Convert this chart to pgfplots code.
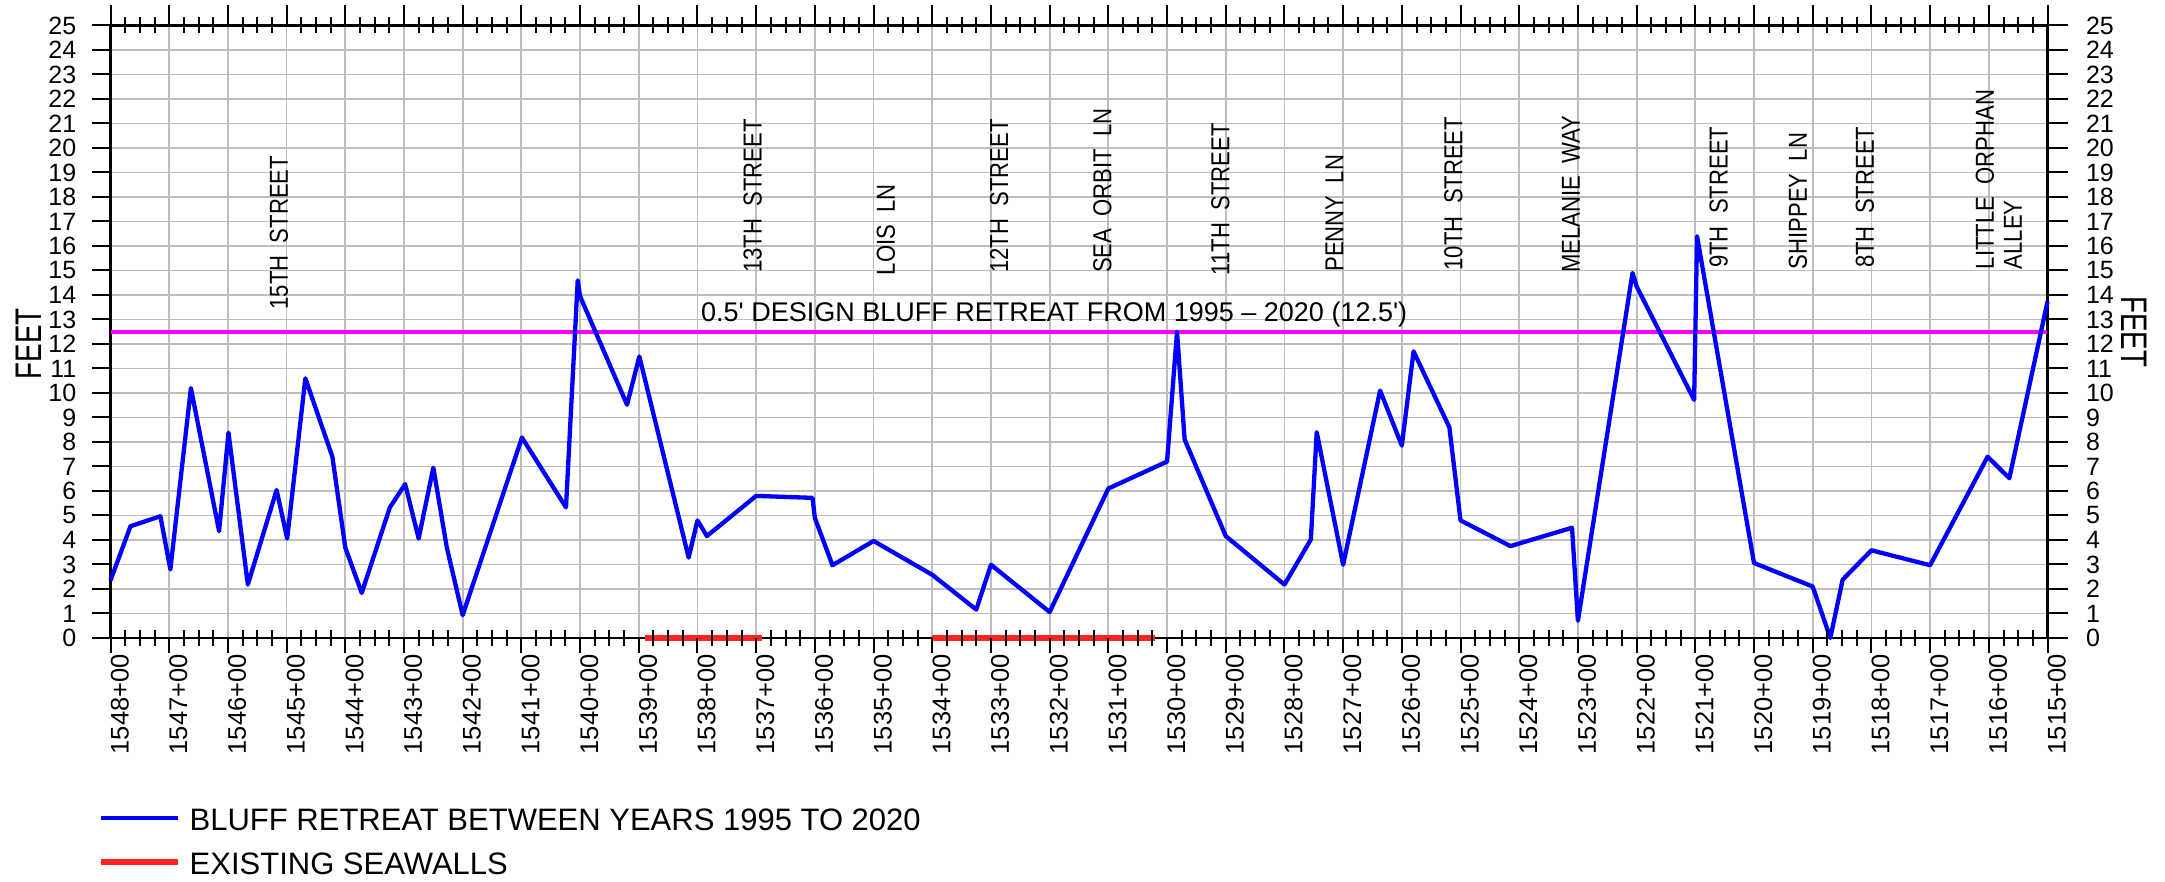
\documentclass[border=0pt]{standalone}
\usepackage{fontspec}
\setmainfont{Liberation Sans}
\usepackage{pgfplots}
\pgfplotsset{compat=1.18}
\definecolor{gridgray}{RGB}{190,190,190}
\definecolor{bluefr}{RGB}{0,0,255}
\definecolor{magline}{RGB}{255,0,255}
\definecolor{redwall}{RGB}{255,35,35}
\newcommand\street[1]{\scalebox{0.85}[1]{#1}}
\begin{document}
\begin{tikzpicture}
\useasboundingbox (0pt,0pt) rectangle (2165pt,881pt);
\begin{axis}[
  at={(110.5pt,243pt)}, anchor=south west,
  scale only axis, width=1937pt, height=612.5pt,
  xmin=0, xmax=33, ymin=0, ymax=25,
  clip=false,
  xtick={0,...,33},
  xticklabels={1548+00,1547+00,1546+00,1545+00,1544+00,1543+00,1542+00,1541+00,1540+00,1539+00,1538+00,1537+00,1536+00,1535+00,1534+00,1533+00,1532+00,1531+00,1530+00,1529+00,1528+00,1527+00,1526+00,1525+00,1524+00,1523+00,1522+00,1521+00,1520+00,1519+00,1518+00,1517+00,1516+00,1515+00},
  ytick={0,...,25},
  grid=major,
  grid style={gridgray, line width=1.8pt},
  tick style={draw=none},
  axis line style={black, line width=2.5pt},
  /pgf/number format/assume math mode=true,
  xticklabel style={rotate=90, anchor=north east, inner sep=0pt, font=\fontsize{25.5}{26}\selectfont},
  xticklabel shift=16pt,
  yticklabel style={anchor=east, inner sep=0pt, font=\fontsize{25}{26}\selectfont},
  yticklabel shift=34pt,
  legend style={at={(axis description cs:-0.00645,-0.2743)}, anchor=north west,
    draw=none, fill=none, inner sep=0pt, row sep=20pt, column sep=9pt,
    font=\fontsize{31}{31}\selectfont,
    nodes={inner sep=0pt, text height=24pt, text depth=0pt}},
  legend cell align=left,
  legend image code/.code={\draw[#1] (0pt,0pt) -- (77pt,0pt);},
]
\addplot[magline, line width=4pt, forget plot] coordinates {(0,12.5) (33,12.5)};
\addplot[bluefr, line width=4.3pt, line join=round] coordinates {
(0,2.35) (0.34,4.56) (0.85,4.97) (1.02,2.8) (1.37,10.2) (1.85,4.36) (2.01,8.38)
(2.34,2.18) (2.83,6.04) (3.01,4.06) (3.32,10.6) (3.78,7.4) (4.0,3.69) (4.28,1.84)
(4.76,5.33) (5.02,6.28) (5.25,4.06) (5.50,6.95) (5.73,3.69) (6.0,0.93) (7.01,8.18)
(7.76,5.33) (7.96,14.6) (8.0,13.95) (8.8,9.52) (9.01,11.49) (9.85,3.28) (10.0,4.8)
(10.16,4.16) (11.0,5.8) (11.96,5.72) (12.0,4.9) (12.3,2.97) (13.0,3.96) (14.0,2.58)
(14.75,1.16) (15.0,2.99) (16.0,1.06) (17.0,6.1) (18.0,7.2) (18.17,12.5) (18.3,8.1)
(19.0,4.16) (20.0,2.18) (20.45,4.02) (20.55,8.4) (21.0,2.99) (21.63,10.1) (22.0,7.85)
(22.2,11.7) (22.81,8.6) (23.0,4.8) (23.85,3.75) (24.9,4.5) (25.0,0.7) (25.93,14.9)
(26.0,14.35) (26.98,9.72) (27.03,16.4) (28.0,3.06) (29.0,2.1) (29.3,0) (29.51,2.38)
(30.0,3.58) (31.0,2.97) (31.98,7.4) (32.35,6.52) (33.0,13.73)};
\addlegendentry{BLUFF RETREAT BETWEEN YEARS 1995 TO 2020}
\addplot[redwall, line width=5.5pt] coordinates {(9.1,0) (11.1,0)};
\addlegendentry{EXISTING SEAWALLS}
\addplot[redwall, line width=5.5pt, forget plot] coordinates {(14.0,0) (17.8,0)};
% street names
\begin{scope}[every node/.style={rotate=90, anchor=west, inner sep=0pt, font=\fontsize{26}{28}\selectfont}]
\node at (axis cs:2.87,13.4) {\street{15TH\ \ STREET}};
\node at (axis cs:10.94,14.9) {\street{13TH\ \ STREET}};
\node at (axis cs:13.21,14.8) {\street{LOIS\ \ LN}};
\node at (axis cs:15.14,14.9) {\street{12TH\ \ STREET}};
\node at (axis cs:16.9,14.9) {\street{SEA\ \ ORBIT\ \ LN}};
\node at (axis cs:18.91,14.8) {\street{11TH\ \ STREET}};
\node at (axis cs:20.85,14.95) {\street{PENNY\ \ LN}};
\node at (axis cs:22.88,15.0) {\street{10TH\ \ STREET}};
\node at (axis cs:24.88,14.9) {\street{MELANIE\ \ WAY}};
\node at (axis cs:27.4,15.1) {\street{9TH\ \ STREET}};
\node at (axis cs:28.75,15.05) {\street{SHIPPEY\ \ LN}};
\node at (axis cs:29.89,15.1) {\street{8TH\ \ STREET}};
\node[align=left] at (axis cs:32.17,15.05) {\street{LITTLE\ \ ORPHAN}\\\street{ALLEY}};
\end{scope}
\node[anchor=base west, inner sep=0pt, font=\fontsize{27}{28}\selectfont] at (axis cs:10.06,12.92)
  {0.5\textquotesingle\ DESIGN\ BLUFF\ RETREAT\ FROM\ 1995 -- 2020 (12.5\textquotesingle)};
\node[rotate=90, inner sep=0pt, font=\fontsize{37}{38}\selectfont] at ([xshift=-81.5pt]axis cs:0,12.0) {\scalebox{0.75}[1]{FEET}};
\node[rotate=-90, inner sep=0pt, font=\fontsize{37}{38}\selectfont] at ([xshift=86.5pt]axis cs:33,12.5) {\scalebox{0.75}[1]{FEET}};
\end{axis}
\begin{scope}[x=1pt, y=1pt, line width=2pt, black]
% bottom major and minor
\foreach \i in {0,...,33} \draw ({110.5+\i*58.697},243) -- ++(0,-15);
\foreach \i in {0,...,32} \foreach \j in {1,2,3} \draw ({110.5+(\i+\j/4)*58.697},235) -- ++(0,16);
% top major and minor
\foreach \i in {0,...,33} \draw ({110.5+\i*58.697},855.5) -- ++(0,20);
\foreach \i in {0,...,32} \foreach \j in {1,2,3} \draw ({110.5+(\i+\j/4)*58.697},847.5) -- ++(0,16);
% y ticks left and right
\foreach \v in {0,...,25} \draw (110.5,{243+\v*24.5}) -- ++(-19,0);
\foreach \v in {0,...,25} \draw (2047.5,{243+\v*24.5}) -- ++(20,0);
\foreach \v in {0,...,25} \node[anchor=west, inner sep=0pt, font=\fontsize{25}{26}\selectfont] at (2085,{243+\v*24.5}) {\v};
\end{scope}
\end{tikzpicture}
\end{document}
